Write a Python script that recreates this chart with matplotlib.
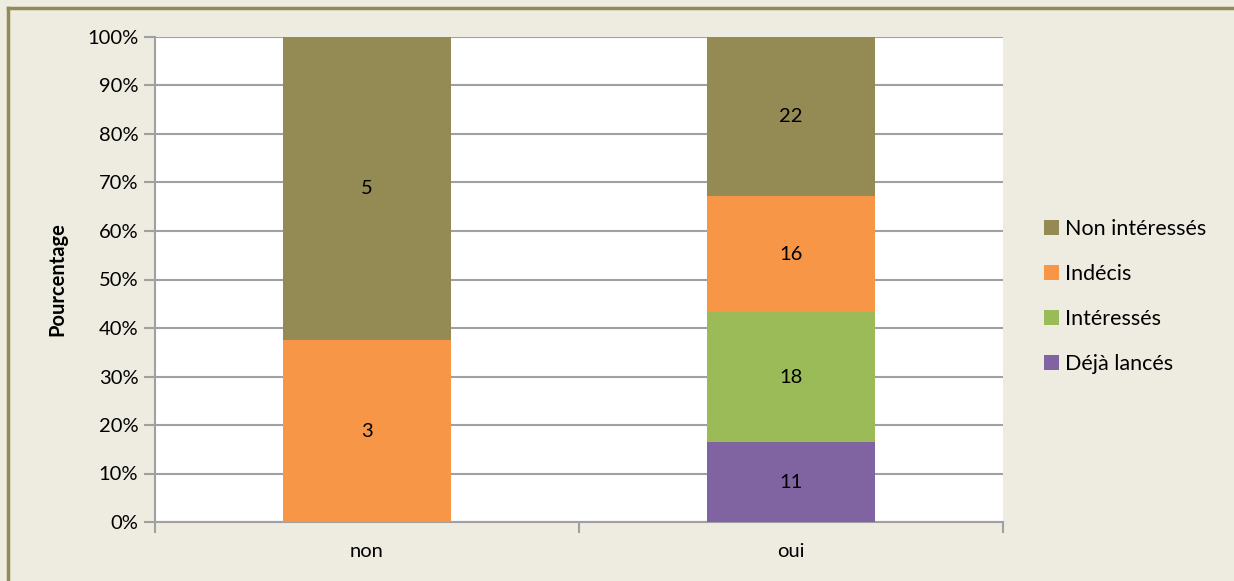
import matplotlib
matplotlib.use("Agg")
import matplotlib.pyplot as plt
from matplotlib.lines import Line2D
import numpy as np

categories = ["non", "oui"]
series = ["Déjà lancés", "Intéressés", "Indécis", "Non intéressés"]
counts = {
    "Déjà lancés":    [0, 11],
    "Intéressés":     [0, 18],
    "Indécis":        [3, 16],
    "Non intéressés": [5, 22],
}
colors = {
    "Déjà lancés": "#8064A2",
    "Intéressés": "#9BBB59",
    "Indécis": "#F79646",
    "Non intéressés": "#948A54",
}
yticks = np.arange(0, 101, 10)

plt.rcParams["font.family"] = ["Lato", "DejaVu Sans"]
BG = "#EEECE1"
GRID = "#A0A0A0"
FS = 14.5

fig = plt.figure(figsize=(12.34, 5.81), dpi=100, facecolor=BG)
ax = fig.add_axes([155 / 1234, 1 - 522 / 581, (1003 - 155) / 1234, (522 - 37) / 581])
ax.set_facecolor("white")

totals = np.sum([counts[s] for s in series], axis=0)
x = np.arange(len(categories))
bottom = np.zeros(len(categories))
handles = {}
for s in series:
    vals = np.array(counts[s], dtype=float)
    pct = vals / totals * 100
    bars = ax.bar(x, pct, width=0.396, bottom=bottom, color=colors[s], zorder=3, label=s)
    handles[s] = bars
    for xi, v, p, b in zip(x, vals, pct, bottom):
        if v > 0:
            ax.text(xi, b + p / 2, f"{int(v)}", ha="center", va="center",
                    fontsize=FS, color="black", zorder=4)
    bottom += pct

ax.set_xlim(-0.5, 1.5)
ax.set_ylim(0, 100)
ax.set_yticks(yticks)
ax.set_yticklabels([f"{t}%" for t in yticks], fontsize=FS)
ax.yaxis.grid(True, color=GRID, lw=1.5, zorder=1)
ax.set_axisbelow(True)

ax.set_xticks(x)
ax.set_xticklabels(categories, fontsize=FS)
ax.set_xticks([-0.5, 0.5, 1.5], minor=True)
ax.tick_params(axis="x", which="major", length=0, pad=15)
ax.tick_params(axis="x", which="minor", length=8, width=1.5, color=GRID)
ax.tick_params(axis="y", length=8, width=1.5, color=GRID, pad=4)

for side in ["top", "right"]:
    ax.spines[side].set_visible(False)
for side in ["left", "bottom"]:
    ax.spines[side].set_color(GRID)
    ax.spines[side].set_linewidth(1.5)

ax.set_ylabel("Pourcentage", fontsize=FS, fontweight="bold", labelpad=14)

order = ["Non intéressés", "Indécis", "Intéressés", "Déjà lancés"]
leg = fig.legend([handles[s] for s in order], order, loc="upper left",
                 bbox_to_anchor=(1025 / 1234, 1 - 200 / 581), frameon=False,
                 fontsize=15.5, handlelength=0.7, handleheight=0.7,
                 handletextpad=0.25, labelspacing=1.15)

# outer frame (top and left edges visible)
fig.add_artist(Line2D([7.5 / 1234, 1.0], [1 - 7.5 / 581] * 2, transform=fig.transFigure,
                      color="#948A54", lw=2.5))
fig.add_artist(Line2D([7.5 / 1234] * 2, [0, 1 - 7.5 / 581], transform=fig.transFigure,
                      color="#948A54", lw=2.5))

fig.savefig("out.png", dpi=100, facecolor=BG)
